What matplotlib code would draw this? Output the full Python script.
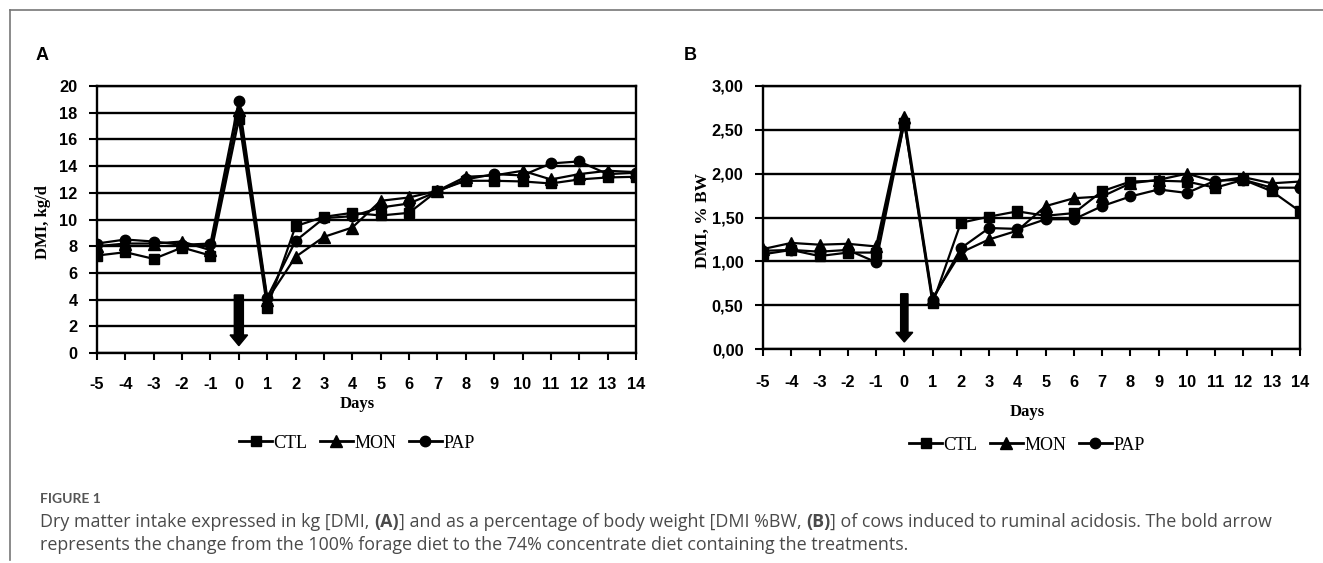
import matplotlib
matplotlib.use("Agg")
import matplotlib.pyplot as plt
from matplotlib import font_manager
from matplotlib.patches import FancyArrow
from matplotlib.lines import Line2D

# ---------------- data ----------------
days = [-5, -4, -3, -2, -1, 0, 1, 2, 3, 4, 5, 6, 7, 8, 9, 10, 11, 12, 13, 14]
series_names = ["CTL", "MON", "PAP"]

dmi_kg_ctl = [7.3, 7.55, 7.05, 7.9, 7.3, 17.5, 3.4, 9.5, 10.2, 10.5, 10.3, 10.5, 12.15, 12.9, 12.9, 12.85, 12.7, 13.0, 13.15, 13.2]
dmi_kg_mon = [8.0, 8.2, 8.2, 8.35, 7.7, 18.2, 4.0, 7.2, 8.7, 9.4, 11.4, 11.65, 12.15, 13.2, 13.3, 13.65, 13.0, 13.4, 13.65, 13.55]
dmi_kg_pap = [8.2, 8.5, 8.35, 8.1, 8.2, 18.9, 4.15, 8.4, 10.1, 10.25, 10.9, 11.2, 12.1, 13.0, 13.4, 13.3, 14.2, 14.35, 13.4, 13.5]

dmi_bw_ctl = [1.08, 1.13, 1.06, 1.10, 1.10, 2.58, 0.52, 1.44, 1.51, 1.57, 1.52, 1.55, 1.80, 1.91, 1.92, 1.91, 1.84, 1.93, 1.80, 1.57]
dmi_bw_mon = [1.14, 1.21, 1.19, 1.20, 1.17, 2.65, 0.58, 1.10, 1.25, 1.35, 1.63, 1.72, 1.74, 1.89, 1.93, 2.00, 1.91, 1.96, 1.89, 1.91]
dmi_bw_pap = [1.12, 1.13, 1.11, 1.13, 0.99, 2.58, 0.56, 1.15, 1.38, 1.37, 1.48, 1.48, 1.63, 1.74, 1.82, 1.78, 1.92, 1.93, 1.84, 1.84]

yticks_a = [0, 2, 4, 6, 8, 10, 12, 14, 16, 18, 20]
yticks_b = [0.0, 0.5, 1.0, 1.5, 2.0, 2.5, 3.0]
ytick_labels_b = ["0,00", "0,50", "1,00", "1,50", "2,00", "2,50", "3,00"]

caption_title = "FIGURE 1"
caption_line1 = [("Dry matter intake expressed in kg [DMI, ", "normal"), ("(A)", "bold"),
                 ("] and as a percentage of body weight [DMI %BW, ", "normal"), ("(B)", "bold"),
                 ("] of cows induced to ruminal acidosis. The bold arrow", "normal")]
caption_line2 = [("represents the change from the 100% forage diet to the 74% concentrate diet containing the treatments.", "normal")]

# ---------------- fonts ----------------
avail = {f.name for f in font_manager.fontManager.ttflist}
tick_font = ["Liberation Sans Narrow"] if "Liberation Sans Narrow" in avail else ["Liberation Sans"]
tick_size = 13 if tick_font[0] == "Liberation Sans Narrow" else 11.8
serif = ["Liberation Serif", "DejaVu Serif"]
cap_font = ["Open Sans", "Lato", "DejaVu Sans"]

W, H = 1323, 563
fig = plt.figure(figsize=(W / 100, H / 100), dpi=100)
fig.patch.set_facecolor("white")

def px_ax(l, r, t, b):
    return [l / W, 1 - b / H, (r - l) / W, (b - t) / H]

axA = fig.add_axes(px_ax(97, 636, 86, 353))
axB = fig.add_axes(px_ax(763, 1300, 86, 349))

markers = ["s", "^", "o"]
msizes = [7.5, 8, 7.5]

def style_axes(ax, yticks, ylabels, ylim, xpad):
    ax.set_xlim(-5, 14)
    ax.set_ylim(*ylim)
    ax.set_xticks(days)
    ax.set_xticklabels([str(d) for d in days])
    ax.set_yticks(yticks)
    ax.set_yticklabels(ylabels)
    for y in yticks:
        ax.axhline(y, color="black", lw=1.7, zorder=1)
    for s in ax.spines.values():
        s.set_linewidth(1.7)
        s.set_color("black")
    ax.tick_params(axis="x", direction="out", length=5, width=1.5, pad=xpad)
    ax.tick_params(axis="y", direction="out", length=6, width=1.5, pad=8)
    for lab in ax.get_xticklabels() + ax.get_yticklabels():
        lab.set_family(tick_font)
        lab.set_fontweight("bold")
        lab.set_fontsize(tick_size)

style_axes(axA, yticks_a, [str(v) for v in yticks_a], (0, 20), 12)
style_axes(axB, yticks_b, ytick_labels_b, (0, 3), 14)

for ax, data in ((axA, (dmi_kg_ctl, dmi_kg_mon, dmi_kg_pap)), (axB, (dmi_bw_ctl, dmi_bw_mon, dmi_bw_pap))):
    for vals, m, ms in zip(data, markers, msizes):
        ax.plot(days, vals, color="black", lw=1.6, marker=m, markersize=ms,
                markerfacecolor="black", markeredgecolor="black", zorder=3)

# bold arrows (diet change at day 0)
axA.add_patch(FancyArrow(0, 4.35, 0, -3.8, width=0.32, head_width=0.62, head_length=0.8,
                         length_includes_head=True, color="black", zorder=4))
axB.add_patch(FancyArrow(0, 0.63, 0, -0.55, width=0.26, head_width=0.6, head_length=0.11,
                         length_includes_head=True, color="black", zorder=4))

def ftext(x, y, s, **kw):
    return fig.text(x / W, 1 - y / H, s, **kw)

# axis labels
ftext(43, 222, "DMI, kg/d", rotation=90, ha="center", va="center", family=serif, fontweight="bold", fontsize=12)
ftext(703, 220, "DMI, % BW", rotation=90, ha="center", va="center", family=serif, fontweight="bold", fontsize=12.5)
ftext(357, 404, "Days", ha="center", va="center", family=serif, fontweight="bold", fontsize=12)
ftext(1027, 412, "Days", ha="center", va="center", family=serif, fontweight="bold", fontsize=12)

# panel letters
ftext(42, 56, "A", ha="center", va="center", family=["Liberation Sans"], fontweight="bold", fontsize=13)
ftext(690, 56, "B", ha="center", va="center", family=["Liberation Sans"], fontweight="bold", fontsize=13)

# legends
handles = [Line2D([], [], color="black", lw=2, marker=m, markersize=ms) for m, ms in zip(markers, msizes)]
for cx, cy in ((357, 443), (1027, 445)):
    fig.legend(handles, series_names, loc="center", bbox_to_anchor=(cx / W, 1 - cy / H),
               ncol=3, frameon=False, prop={"family": serif, "size": 13},
               handlelength=1.8, handletextpad=0.1, columnspacing=0.7, borderpad=0)

# frame lines
fig.add_artist(Line2D([10 / W, 1], [1 - 10 / H, 1 - 10 / H], color="#777777", lw=1.2))
fig.add_artist(Line2D([10 / W, 10 / W], [1 - 10 / H, 1 - 560 / H], color="#777777", lw=1.2))

# caption
ftext(40, 499, caption_title, ha="left", va="center", family=["Lato", "Open Sans"], fontweight="bold", fontsize=10, color="#555555")
renderer = fig.canvas.get_renderer()

def draw_segments(x, y, segs):
    for s, w in segs:
        t = ftext(x, y, s, ha="left", va="center", family=cap_font, fontweight=w, fontsize=12.9, color="#4a4a4a")
        bb = t.get_window_extent(renderer)
        x += bb.width

draw_segments(40, 522, caption_line1)
draw_segments(40, 545, caption_line2)

fig.savefig("out.png", dpi=100, facecolor="white")
